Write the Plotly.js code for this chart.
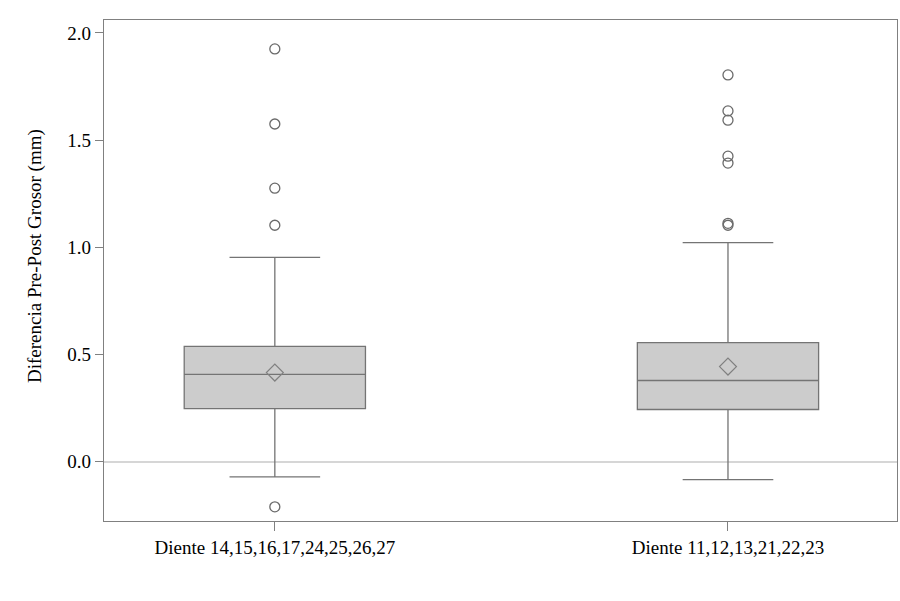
<!DOCTYPE html>
<html>
<head>
<meta charset="utf-8">
<script src="https://cdn.plot.ly/plotly-3.0.1.min.js"></script>
<style>html,body{margin:0;padding:0;background:#fff;}</style>
</head>
<body>
<div id="chart" style="width:900px;height:601px;"></div>
<script>
const categories = ["Diente 14,15,16,17,24,25,26,27", "Diente 11,12,13,21,22,23"];
const q1Values = [0.248, 0.244];
const medianValues = [0.408, 0.379];
const q3Values = [0.538, 0.556];
const lowerFence = [-0.070, -0.083];
const upperFence = [0.953, 1.022];
const meanValues = [0.416, 0.444];
const outliersGroup1 = [1.925, 1.575, 1.276, 1.103, -0.210];
const outliersGroup2 = [1.804, 1.636, 1.593, 1.425, 1.393, 1.112, 1.103];
const yTitle = "Diferencia Pre-Post Grosor (mm)";

const font = "Liberation Serif, Times New Roman, serif";
const gray = "#747474";

const traces = [
  {
    type: "box",
    x: categories,
    q1: q1Values, median: medianValues, q3: q3Values,
    lowerfence: lowerFence, upperfence: upperFence,
    width: 0.40,
    whiskerwidth: 0.5,
    fillcolor: "#cccccc",
    line: {color: gray, width: 1.3},
    boxpoints: false,
    showlegend: false,
    hoverinfo: "y"
  },
  {
    type: "scatter", mode: "markers",
    x: outliersGroup1.map(() => categories[0]).concat(outliersGroup2.map(() => categories[1])),
    y: outliersGroup1.concat(outliersGroup2),
    marker: {symbol: "circle-open", size: 10, color: "#6a6a6a", line: {width: 1.3}},
    showlegend: false
  },
  {
    type: "scatter", mode: "markers",
    x: categories, y: meanValues,
    marker: {symbol: "diamond-open", size: 13, color: "#808080", line: {width: 1.2}},
    showlegend: false
  }
];

const layout = {
  width: 900, height: 601,
  margin: {l: 104, r: 3, t: 20, b: 80},
  paper_bgcolor: "#ffffff", plot_bgcolor: "#ffffff",
  font: {family: font, size: 19, color: "#000"},
  xaxis: {
    type: "category",
    categoryarray: categories,
    range: [-0.377, 1.373],
    showline: true, mirror: true, linecolor: "#808080", linewidth: 1.3,
    ticks: "outside", ticklen: 9, tickcolor: "#808080",
    showgrid: false, zeroline: false,
    tickfont: {family: font, size: 19, color: "#000"}
  },
  yaxis: {
    range: [-0.276, 2.06],
    tickvals: [0, 0.5, 1.0, 1.5, 2.0],
    tickformat: ".1f",
    showline: true, mirror: true, linecolor: "#808080", linewidth: 1.3,
    ticks: "outside", ticklen: 8, tickcolor: "#808080",
    showgrid: false,
    zeroline: true, zerolinecolor: "#d6d6d6", zerolinewidth: 1.5,
    tickfont: {family: font, size: 19, color: "#000"}
  },
  annotations: [{
    text: yTitle,
    xref: "paper", yref: "paper",
    x: -0.087, y: 0.529,
    xanchor: "center", yanchor: "middle",
    textangle: -90, showarrow: false,
    font: {family: font, size: 19, color: "#000"}
  }]
};

Plotly.newPlot("chart", traces, layout, {displayModeBar: false, staticPlot: true});
</script>
</body>
</html>
